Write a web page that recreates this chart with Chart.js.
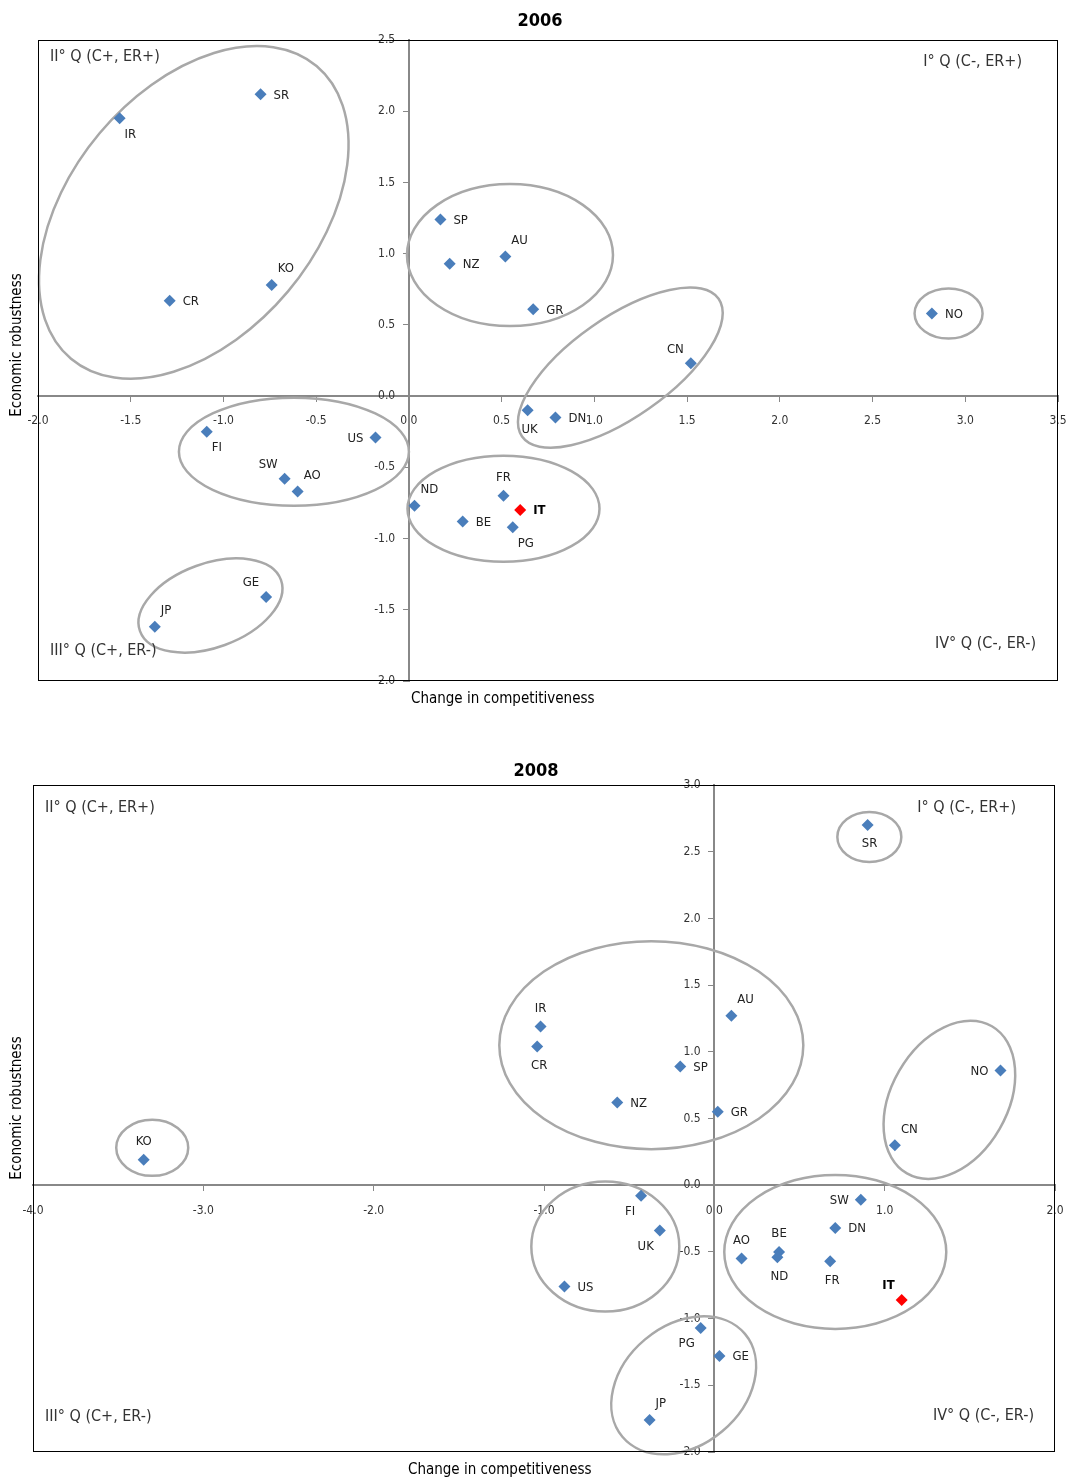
<!DOCTYPE html>
<html>
<head>
<meta charset="utf-8">
<script src="https://cdn.jsdelivr.net/npm/chart.js@4.4.1/dist/chart.umd.min.js"></script>
<style>
  body { margin: 0; background: #fff; }
  .wrap { position: absolute; left: 0; width: 1067px; }
</style>
</head>
<body>
<div class="wrap" style="top:0;height:720px"><canvas id="chart2006"></canvas></div>
<div class="wrap" style="top:750px;height:732px"><canvas id="chart2008"></canvas></div>
<script>
// ---- 2006 ----
const countries2006 = ['SR','IR','KO','CR','SP','NZ','AU','GR','CN','NO','UK','DN','FI','US','SW','AO','ND','FR','IT','BE','PG','GE','JP'];
const competitiveness2006 = [-0.80,-1.56,-0.74,-1.29,0.17,0.22,0.52,0.67,1.52,2.82,0.64,0.79,-1.09,-0.18,-0.67,-0.60,0.03,0.51,0.60,0.29,0.56,-0.77,-1.37];
const robustness2006 = [2.12,1.95,0.78,0.67,1.24,0.93,0.98,0.61,0.23,0.58,-0.10,-0.15,-0.25,-0.29,-0.58,-0.67,-0.77,-0.70,-0.80,-0.88,-0.92,-1.41,-1.62];
const labelSide2006 = ['e','se','ne','e','e','e','ne','e','nw','e','s','e','se','w','nw','ne','ne','n','e','e','se','nw','ne'];

// ---- 2008 ----
const countries2008 = ['SR','AU','IR','CR','SP','NZ','GR','NO','CN','KO','FI','SW','DN','UK','BE','ND','AO','FR','US','IT','PG','GE','JP'];
const competitiveness2008 = [0.90,0.10,-1.02,-1.04,-0.20,-0.57,0.02,1.68,1.06,-3.35,-0.43,0.86,0.71,-0.32,0.38,0.37,0.16,0.68,-0.88,1.10,-0.08,0.03,-0.38];
const robustness2008 = [2.70,1.27,1.19,1.04,0.89,0.62,0.55,0.86,0.30,0.19,-0.08,-0.11,-0.32,-0.34,-0.50,-0.54,-0.55,-0.57,-0.76,-0.86,-1.07,-1.28,-1.76];
const labelSide2008 = ['s','ne','n','s','e','e','e','w','ne','n','sw','w','e','sw','n','s','n','s','e','nw','sw','e','ne'];

// cluster outlines: centre in data units, radii in px, rotation in degrees
const groups2006 = [
  {x: -1.16, y: 1.29, rx: 191, ry: 123, rot: -50},
  {x: 0.545, y: 0.99, rx: 103, ry: 71, rot: 0},
  {x: 1.14, y: 0.20, rx: 120, ry: 50, rot: -35},
  {x: 2.91, y: 0.58, rx: 34, ry: 25, rot: 0},
  {x: -0.62, y: -0.39, rx: 115, ry: 54, rot: 0},
  {x: 0.51, y: -0.79, rx: 96, ry: 53, rot: 0},
  {x: -1.07, y: -1.47, rx: 75, ry: 42, rot: -20}
];
const groups2008 = [
  {x: 0.91, y: 2.61, rx: 32, ry: 25, rot: 0},
  {x: -0.37, y: 1.05, rx: 152, ry: 104, rot: 0},
  {x: 1.38, y: 0.64, rx: 85, ry: 58, rot: -60},
  {x: -3.30, y: 0.28, rx: 36, ry: 28, rot: 0},
  {x: -0.64, y: -0.46, rx: 74, ry: 65, rot: 0},
  {x: 0.71, y: -0.50, rx: 111, ry: 77, rot: 0},
  {x: -0.18, y: -1.50, rx: 80, ry: 60, rot: -40}
];

const FONT = "'Liberation Sans Narrow', 'DejaVu Sans Condensed', 'Liberation Sans', sans-serif";
const BLUE = '#4a7ebb';

const sideOffsets = {
  e:  {dx: 13, dy: 1, align: 'left'},
  w:  {dx: -12, dy: 1, align: 'right'},
  n:  {dx: 0, dy: -18, align: 'center'},
  s:  {dx: 2, dy: 19, align: 'center'},
  ne: {dx: 6, dy: -16, align: 'left'},
  nw: {dx: -7, dy: -14, align: 'right'},
  se: {dx: 5, dy: 16, align: 'left'},
  sw: {dx: -6, dy: 16, align: 'right'}
};

function decorPlugin(opts) {
  return {
    id: 'decor',
    beforeDatasetsDraw(chart) {
      const ctx = chart.ctx, xs = chart.scales.x, ys = chart.scales.y;
      ctx.save();
      ctx.strokeStyle = '#a8a8a8';
      ctx.lineWidth = 2.5;
      opts.groups.forEach(g => {
        ctx.beginPath();
        ctx.ellipse(xs.getPixelForValue(g.x), ys.getPixelForValue(g.y), g.rx, g.ry, g.rot * Math.PI / 180, 0, Math.PI * 2);
        ctx.stroke();
      });
      ctx.restore();
    },
    afterDraw(chart) {
      const ctx = chart.ctx, a = chart.chartArea, xs = chart.scales.x, ys = chart.scales.y;
      ctx.save();
      // frame
      ctx.strokeStyle = '#000';
      ctx.lineWidth = 1;
      ctx.strokeRect(a.left + 0.5, a.top + 0.5, a.right - a.left - 1, a.bottom - a.top - 1);

      // point labels
      ctx.textBaseline = 'middle';
      opts.names.forEach((n, i) => {
        const o = sideOffsets[opts.sides[i]];
        const px = xs.getPixelForValue(opts.xv[i]), py = ys.getPixelForValue(opts.yv[i]);
        ctx.font = (n === 'IT' ? 'bold ' : '') + '13px ' + FONT;
        ctx.fillStyle = n === 'IT' ? '#000' : '#222';
        ctx.textAlign = o.align;
        ctx.fillText(n, px + o.dx, py + o.dy);
      });

      // quadrant captions
      ctx.font = '16px ' + FONT;
      ctx.fillStyle = '#333';
      ctx.textAlign = 'left';
      ctx.fillText('II° Q (C+, ER+)', a.left + 12, a.top + opts.q[0]);
      ctx.fillText('III° Q (C+, ER-)', a.left + 12, a.bottom - opts.q[2]);
      ctx.textAlign = 'right';
      ctx.fillText('I° Q (C-, ER+)', a.right - opts.q[1][0], a.top + opts.q[1][1]);
      ctx.fillText('IV° Q (C-, ER-)', a.right - opts.q[3][0], a.bottom - opts.q[3][1]);

      // titles
      ctx.fillStyle = '#000';
      ctx.font = 'bold 18px ' + FONT;
      ctx.textAlign = 'center';
      ctx.fillText(opts.title, opts.titleX, a.top - opts.titleGap);
      ctx.font = '15px ' + FONT;
      ctx.textAlign = 'left';
      ctx.fillText('Change in competitiveness', opts.xTitleX, a.bottom + 18);
      ctx.translate(17, opts.yTitleY);
      ctx.rotate(-Math.PI / 2);
      ctx.textAlign = 'center';
      ctx.fillText('Economic robustness', 0, 0);
      ctx.restore();
    }
  };
}

function makeChart(id, opts) {
  const tickFont = {family: FONT, size: 12};
  return new Chart(document.getElementById(id), {
    type: 'scatter',
    data: {
      datasets: [{
        data: opts.xv.map((v, i) => ({x: v, y: opts.yv[i]})),
        pointStyle: 'rectRot',
        pointRadius: 6,
        pointHoverRadius: 6,
        pointBorderWidth: 0,
        pointBackgroundColor: opts.names.map(n => n === 'IT' ? '#ff0000' : BLUE)
      }]
    },
    options: {
      responsive: true,
      maintainAspectRatio: false,
      animation: false,
      events: [],
      layout: {padding: opts.padding},
      plugins: {legend: {display: false}, tooltip: {enabled: false}},
      scales: {
        x: {
          type: 'linear',
          position: {y: 0},
          min: opts.xMin, max: opts.xMax,
          // axes cross inside the plot, so they should not eat layout space
          afterFit: s => { s.height = 0; s.paddingLeft = 0; s.paddingRight = 0; },
          ticks: {stepSize: opts.xStep, callback: v => v.toFixed(1), font: tickFont, color: '#333', padding: 13, maxRotation: 0, autoSkip: false},
          grid: {drawOnChartArea: false, tickLength: 5, color: '#888'},
          border: {color: '#888', width: 2}
        },
        y: {
          type: 'linear',
          position: {x: 0},
          min: opts.yMin, max: opts.yMax,
          afterFit: s => { s.width = 0; s.paddingTop = 0; s.paddingBottom = 0; },
          // centred axis labels sit flush on the axis; trailing spaces push them left
          ticks: {stepSize: 0.5, callback: v => v.toFixed(1) + '    ', font: tickFont, color: '#333', padding: 0, autoSkip: false},
          grid: {drawOnChartArea: false, tickLength: 5, color: '#888'},
          border: {color: '#888', width: 2}
        }
      }
    },
    plugins: [decorPlugin(opts)]
  });
}

makeChart('chart2006', {
  names: countries2006, xv: competitiveness2006, yv: robustness2006, sides: labelSide2006,
  groups: groups2006, title: '2006', titleX: 540, titleGap: 19, xTitleX: 411, yTitleY: 345,
  xMin: -2, xMax: 3.5, xStep: 0.5, yMin: -2, yMax: 2.5,
  padding: {left: 38, right: 9, top: 40, bottom: 39},
  q: [17, [36, 22], 30, [22, 37]]
});

makeChart('chart2008', {
  names: countries2008, xv: competitiveness2008, yv: robustness2008, sides: labelSide2008,
  groups: groups2008, title: '2008', titleX: 536, titleGap: 14, xTitleX: 408, yTitleY: 358,
  xMin: -4, xMax: 2, xStep: 1, yMin: -2, yMax: 3,
  padding: {left: 33, right: 12, top: 35, bottom: 30},
  q: [23, [39, 23], 35, [21, 36]]
});
</script>
</body>
</html>
